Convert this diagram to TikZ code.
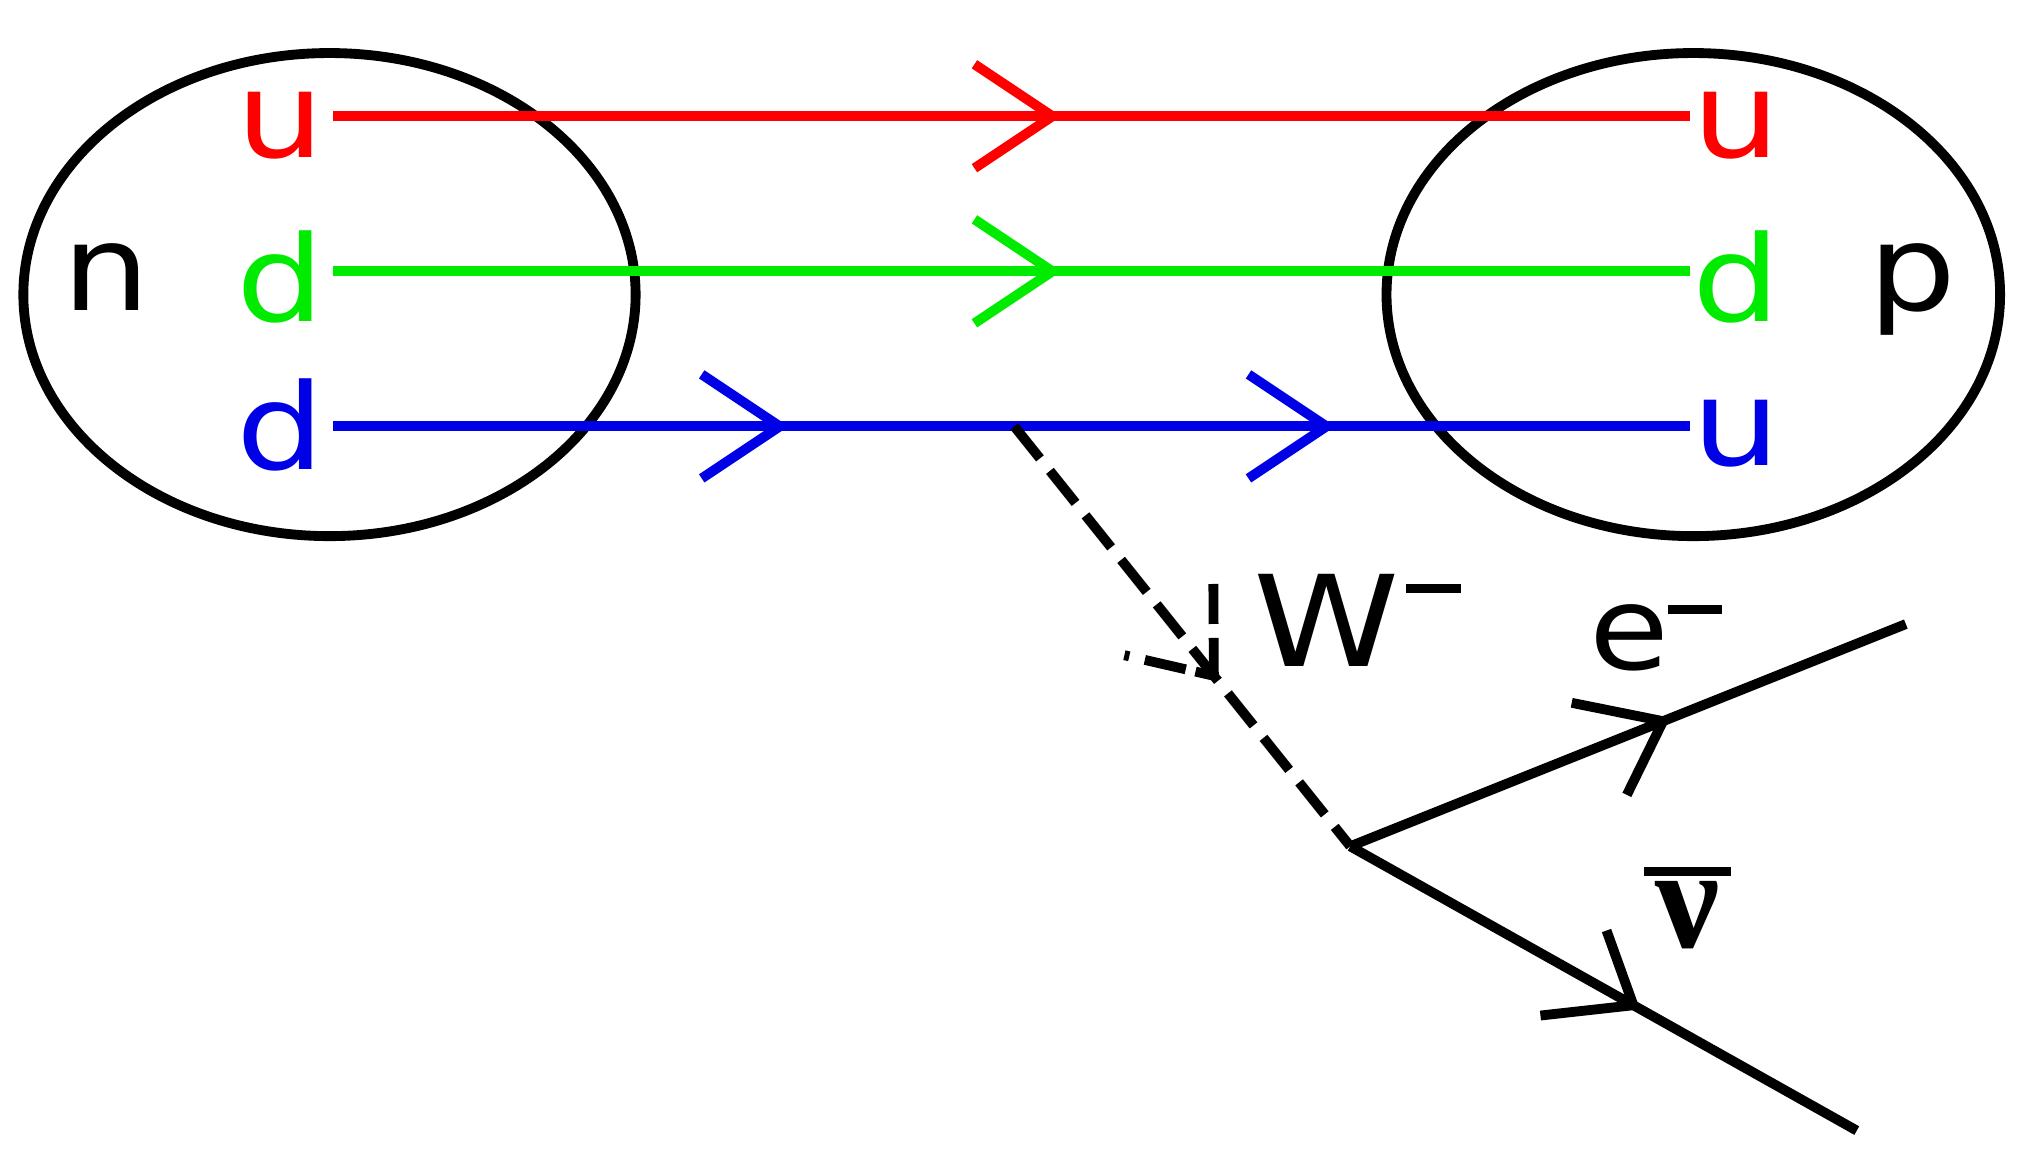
\documentclass[tikz,border=0pt]{standalone}
\usepackage{fontspec}
\setmainfont{DejaVu Sans}
\newfontfamily\seriffont{Liberation Serif}
\usetikzlibrary{decorations.markings,shapes.geometric}
\definecolor{qred}{RGB}{255,0,0}
\definecolor{qgreen}{RGB}{0,235,0}
\definecolor{qblue}{RGB}{0,0,230}
\newcommand{\wide}[2]{\scalebox{#1}[1]{#2}}
\begin{document}
\begin{tikzpicture}[x=0.01292cm,y=0.01292cm,
  line width=2.8pt,
  hadron/.style={draw=black, line width=2.8pt, ellipse, inner sep=0pt},
  quark/.style={font=\fontsize{34}{34}\selectfont, inner sep=0pt, anchor=base},
  lab/.style={inner sep=0pt, anchor=base west},
  chev/.style 2 args={postaction={decorate,decoration={markings,
     mark=at position #1 with {\draw[#2,line width=2.8pt,solid,line cap=butt] (-0.78cm,0.52cm) -- (0,0) -- (-0.78cm,-0.52cm);}}}},
  echev/.style={postaction={decorate,decoration={markings,
     mark=at position #1 with {\draw[black,line width=2.8pt,solid,line cap=butt] (-0.78cm,0.51cm) -- (0,0) -- (-0.61cm,-0.55cm);}}}},
  nuchev/.style={postaction={decorate,decoration={markings,
     mark=at position #1 with {\draw[black,line width=2.8pt,solid,line cap=butt] (-0.60cm,0.52cm) -- (0,0) -- (-0.76cm,-0.545cm);}}}},
  dchev/.style={postaction={decorate,decoration={markings,
     mark=at position #1 with {\draw[black,line width=2.8pt,line cap=butt,dash pattern=on 0.4cm off 0.14cm on 0.4cm] (-0.72cm,0.57cm) -- (0,0);
       \draw[black,line width=2.8pt,line cap=butt,dash pattern=on 0.05cm off 0.16cm on 0.42cm off 0.1cm on 0.4cm] (-0.72cm,-0.57cm) -- (0,0);}}}},
  wline/.style={black, line width=2.8pt, dash pattern=on 0.41cm off 0.16cm},
  lepton/.style={black, line width=2.8pt},
]
\useasboundingbox (0,0) rectangle (1568,906);

% hadrons
\node[hadron, minimum width=6.124cm, minimum height=4.832cm] (nhad) at (255,678) {};
\node[hadron, minimum width=6.137cm, minimum height=4.832cm] (phad) at (1310.5,678) {};
\node[quark] (nlab) at (82,666) {\wide{1.16}{n}};
\node[quark] (plab) at (1480,666) {\wide{1.16}{p}};

% quark labels
\node[quark, text=qred]   (lq1) at (217,784) {\wide{1.16}{u}};
\node[quark, text=qgreen] (lq2) at (217,657) {\wide{1.16}{d}};
\node[quark, text=qblue]  (lq3) at (217,543) {\wide{1.16}{d}};
\node[quark, text=qred]   (rq1) at (1344,784) {\wide{1.16}{u}};
\node[quark, text=qgreen] (rq2) at (1344,657) {\wide{1.16}{d}};
\node[quark, text=qblue]  (rq3) at (1344,546) {\wide{1.16}{u}};

% quark line ends and vertices
\coordinate (a1) at (258,816); \coordinate (b1) at (1308,816);
\coordinate (a2) at (258,696); \coordinate (b2) at (1308,696);
\coordinate (a3) at (258,576); \coordinate (b3) at (1308,576);
\coordinate (v1) at (785,576);
\coordinate (v2) at (1045,251);
\coordinate (eend) at (1475,423);
\coordinate (nuend) at (1437,31);

\draw[qred, chev={0.53}{qred}] (a1) -- (b1);
\draw[qgreen, chev={0.53}{qgreen}] (a2) -- (b2);
\draw[qblue, chev={0.329}{qblue}, chev={0.732}{qblue}] (a3) -- (b3);

% W boson
\draw[wline, dchev=0.594] (v1) -- (v2);
\node[lab] (wlab) at (966,390)
  {\fontsize{36}{36}\selectfont\wide{1.17}{W}\kern1.8pt\rule[21pt]{15.8pt}{2.6pt}};

% leptons
\draw[lepton, echev=0.563] (v2) -- (eend);
\draw[lepton, nuchev=0.559] (v2) -- (nuend);
\node[lab] (elab) at (1226,388)
  {\fontsize{33}{33}\selectfont\wide{1.12}{e}\kern-0.4pt\rule[15.6pt]{15.4pt}{2.6pt}};
\node[inner sep=0pt, anchor=base, font=\fontsize{41}{41}\selectfont] (nulab) at (1306,173)
  {\vbox{\hrule height 2.6pt\kern 1.3pt\hbox to 24.9pt{\hss\seriffont\bfseries ν\hss}}};
\end{tikzpicture}
\end{document}
